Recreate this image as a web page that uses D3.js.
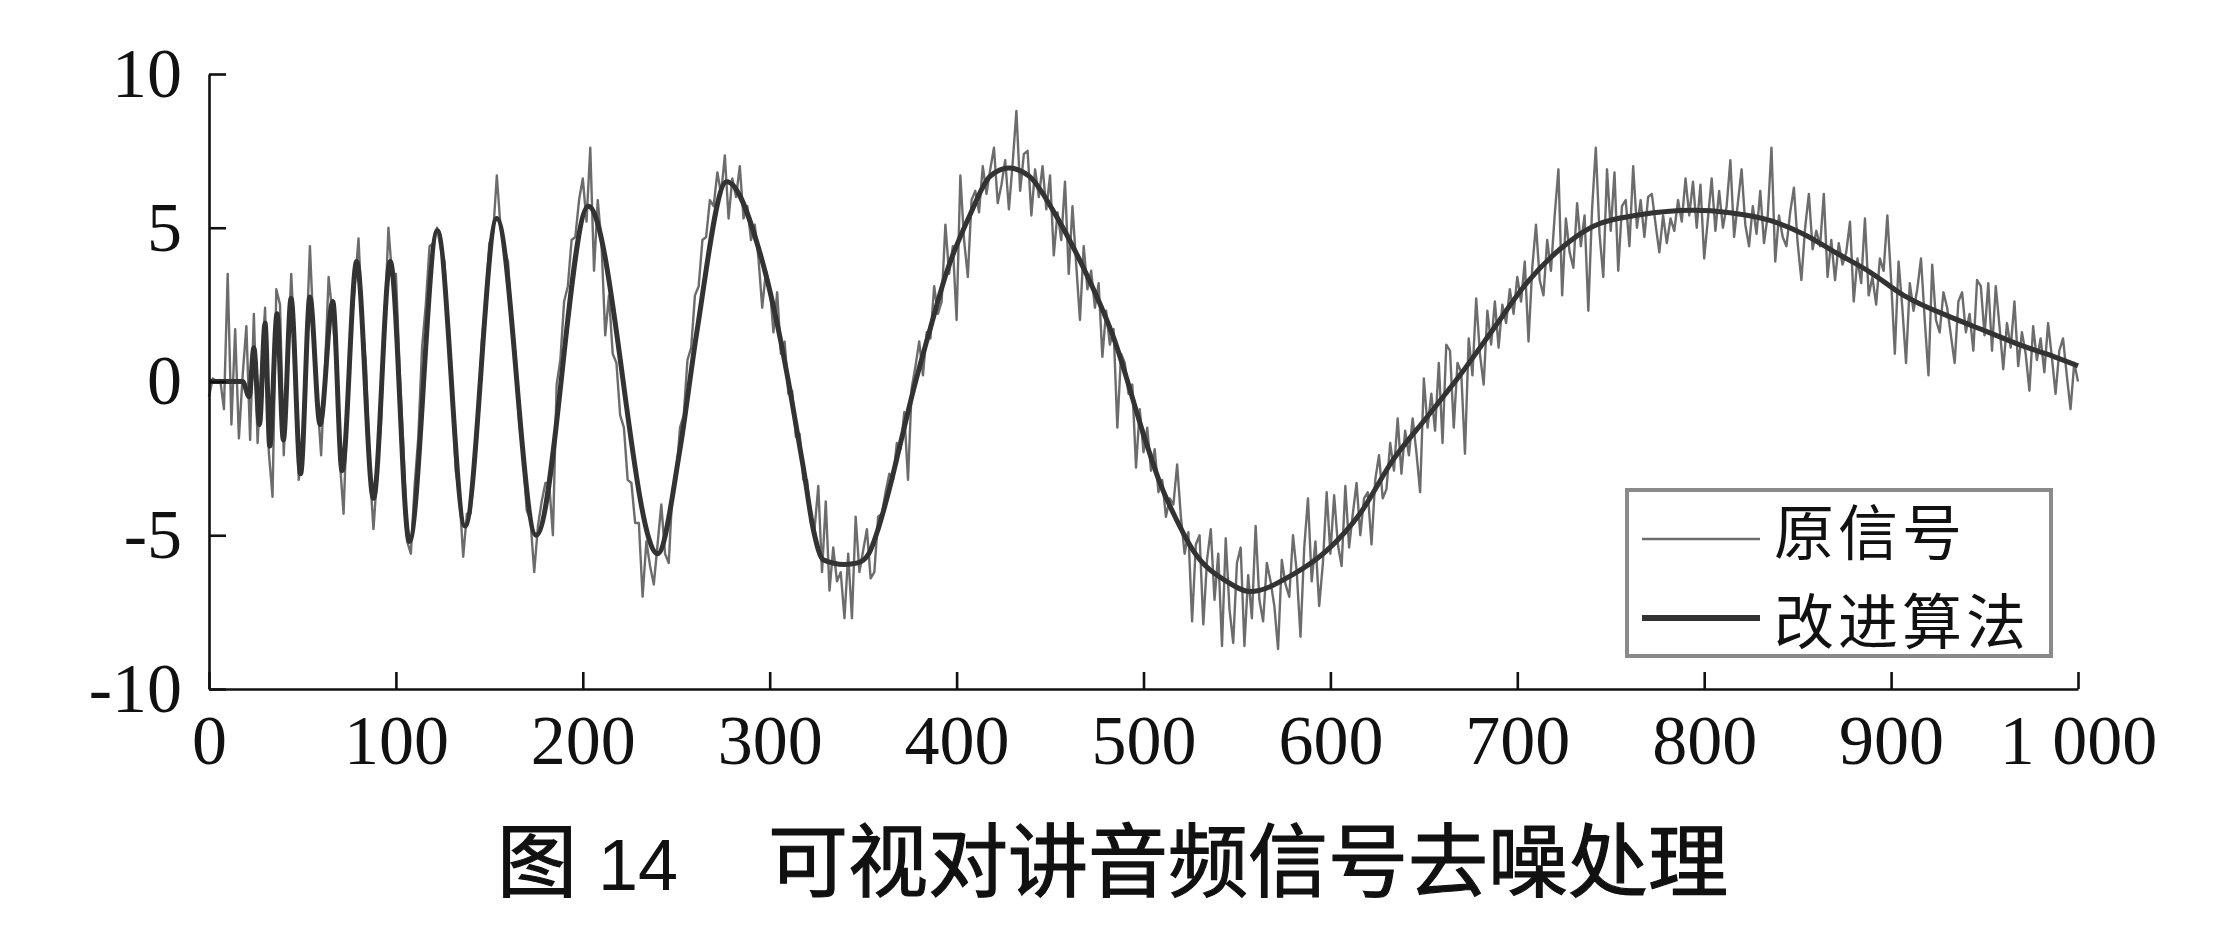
<!DOCTYPE html>
<html>
<head>
<meta charset="utf-8">
<script src="https://cdn.jsdelivr.net/npm/d3@7"></script>
<style>
  html, body { margin: 0; padding: 0; background: #fff; }
  svg { display: block; }
</style>
</head>
<body>
<svg id="chart" width="2240" height="936"></svg>
<script>
// ---------------- data ----------------
const xTickValues = [0, 100, 200, 300, 400, 500, 600, 700, 800, 900, 1000];
const xTickLabels = ["0", "100", "200", "300", "400", "500", "600", "700", "800", "900", "1 000"];
const yTickValues = [-10, -5, 0, 5, 10];
const yTickLabels = ["-10", "-5", "0", "5", "10"];

const seriesNames = ["原信号", "改进算法"];
const captionFig = "图";
const captionNumDigits = "14";
const captionText = "可视对讲音频信号去噪处理";

// original (noisy) signal, sampled every 2 units from 0 to 1000
const originalStep = 2;
const originalY = [
-0.5,0.1,0.0,0.05,-0.9,3.5,-1.4,1.7,-1.85,0.2,
1.8,-1.9,2.2,-2.0,0.4,2.4,-2.3,-3.75,3.0,2.5,
-2.4,0.6,3.5,0.9,-3.2,-2.1,1.1,4.4,1.5,-0.6,
-2.4,0.3,3.4,2.2,0.7,-2.6,-4.3,-0.8,1.6,3.1,
4.65,2.0,0.5,-2.9,-4.8,-3.0,-1.4,1.9,5.0,3.4,
3.5,0.4,-2.1,-5.2,-5.6,-3.4,-1.8,1.1,2.5,4.4,
4.5,5.0,4.3,3.9,1.5,-0.3,-2.9,-3.7,-5.7,-4.3,
-4.3,-2.5,-1.3,1.3,2.6,4.5,4.8,6.7,5.0,4.3,
3.9,1.8,0.9,-1.4,-2.4,-4.2,-4.5,-6.2,-4.7,-3.9,
-3.3,-3.3,-5.0,-0.1,0.7,2.6,3.1,4.6,4.7,5.9,
6.6,5.2,7.6,3.6,5.9,4.5,1.5,2.8,0.9,0.6,
-1.1,-1.5,-3.2,-3.3,-4.6,-4.6,-7.0,-5.2,-6.0,-6.6,
-5.3,-4.0,-5.6,-5.9,-3.5,-3.1,-1.5,-1.1,0.7,1.1,
2.8,3.1,4.6,4.7,5.9,5.7,6.8,6.1,7.35,5.3,
6.6,6.0,7.0,5.3,5.7,4.6,5.1,4.0,2.4,3.6,
3.1,1.6,2.9,0.9,1.3,-0.4,-0.3,-1.8,-1.7,-3.2,
-3.2,-4.6,-4.8,-3.4,-6.2,-3.9,-6.8,-5.4,-6.5,-6.2,
-7.7,-5.6,-7.7,-4.4,-6.2,-5.5,-4.8,-6.4,-6.2,-4.4,
-4.3,-3.6,-3.0,-3.2,-2.0,-2.2,-1.0,-3.2,-0.2,0.5,
1.3,0.2,1.6,1.4,3.1,2.2,2.6,5.1,3.5,4.4,
2.0,6.7,4.6,3.4,5.9,6.2,5.5,7.0,6.1,6.9,
7.6,5.8,6.4,7.2,5.6,7.1,8.8,6.2,7.4,7.5,
5.4,6.9,6.0,7.0,5.6,6.7,4.1,5.5,4.6,6.5,
3.5,5.7,3.8,2.0,4.4,3.0,3.6,2.4,3.2,0.8,
2.3,1.2,1.7,-1.5,0.9,0.6,-0.4,-0.1,-2.8,-0.9,
-2.3,-1.5,-2.9,-2.2,-3.6,-3.2,-4.4,-3.8,-4.0,-2.7,
-4.4,-5.6,-4.9,-7.8,-5.3,-5.0,-7.9,-5.8,-4.8,-7.1,
-5.6,-8.6,-5.1,-7.4,-8.5,-5.9,-5.4,-8.6,-6.3,-7.7,
-4.7,-7.1,-7.8,-5.9,-6.5,-7.3,-8.7,-5.8,-6.6,-7.0,
-5.0,-6.2,-8.3,-5.4,-3.8,-6.5,-5.2,-7.3,-5.9,-3.6,
-5.6,-3.7,-5.3,-6.0,-3.4,-5.4,-4.3,-3.3,-5.0,-3.8,
-3.6,-5.3,-3.2,-2.4,-3.8,-3.5,-2.0,-2.9,-1.2,-3.0,
-1.6,-2.4,-1.2,-2.3,-3.6,0.1,-1.5,-0.4,-1.6,0.6,
-2.0,1.2,1.0,-1.5,0.6,0.3,-2.35,1.4,0.2,2.7,
0.9,-0.1,2.3,1.2,2.6,1.1,2.5,1.9,3.0,2.2,
3.4,2.6,3.9,1.3,3.7,5.1,3.3,2.8,4.6,3.6,
5.4,6.9,2.8,5.3,4.2,3.7,5.8,4.4,5.4,2.3,
5.6,7.6,4.8,3.4,6.9,4.9,6.8,3.6,5.7,5.9,
4.4,7.0,5.0,5.9,4.7,6.0,6.1,5.1,4.2,5.4,
4.5,5.3,4.9,5.9,5.2,6.6,5.4,6.5,5.0,6.4,
4.0,5.3,6.6,4.9,6.2,5.0,5.7,7.2,4.7,5.8,
6.9,5.1,4.4,5.7,4.8,6.2,4.5,5.4,7.6,3.9,
5.4,4.7,4.4,5.5,6.3,4.5,3.3,5.0,6.1,4.3,
4.9,4.4,6.1,3.4,4.6,3.3,4.5,3.8,4.2,5.2,
2.6,4.0,3.2,5.3,2.8,3.4,2.5,4.0,3.6,5.4,
3.3,0.9,3.9,2.4,0.6,3.2,2.3,3.0,4.0,2.0,
0.2,3.8,2.0,1.6,2.9,2.4,1.5,0.6,2.6,2.9,
1.6,2.2,1.0,3.3,3.1,1.5,3.2,1.0,3.1,1.8,
0.4,1.9,1.1,2.6,0.5,1.6,0.9,-0.3,1.8,0.7,
1.4,0.3,1.9,0.8,-0.4,1.0,1.4,0.2,-0.9,0.6,
0.0
];

// denoised (improved algorithm) curve, key points
const denoisedX = [0,10,18,21.5,24,27,30,32.5,36.4,39.8,
43.9,49,54,59.4,66.2,71.2,79,88,97,107.2,
122.2,137,154,175,203,240,252,261,277,294.8,
305.5,310.9,318,323.3,328.7,340,347,353,358,364,
370,376.8,385.8,394.7,407,417.9,428,439,451.7,466,
483.9,501.7,508.8,517.7,526.6,544.5,557,580.1,598,615.8,
633.6,651.5,669.3,687.1,705,722.8,740.7,765.6,794,813.8,
835.1,853,870.8,888.7,906.5,933.2,951,968.9,986.7,1000];
const denoisedY = [0,0,0,-0.5,1.1,-1.4,1.9,-2.1,2.2,-1.9,
2.7,-3.0,2.75,-1.4,2.6,-2.9,3.9,-3.8,3.9,-5.2,
4.9,-4.7,5.3,-5.0,5.7,-5.6,-2.2,1.6,6.5,4.18,
1.44,-0.3,-2.8,-4.8,-5.8,-5.95,-5.9,-5.6,-4.8,-3.5,
-2.0,-0.3,1.7,3.56,5.4,6.67,6.94,6.67,5.55,3.93,
1.44,-2.04,-3.3,-4.5,-5.5,-6.5,-6.83,-6.27,-5.5,-4.3,
-2.54,-1.17,0.2,1.7,3.2,4.3,5.05,5.42,5.57,5.49,
5.24,4.8,4.18,3.56,2.81,2.06,1.63,1.19,0.82,0.51];

// ---------------- drawing ----------------
const svg = d3.select("#chart");
svg.append("rect").attr("width", 2240).attr("height", 936).attr("fill", "#fff");

const x = d3.scaleLinear().domain([0, 1000]).range([209, 2078]);
const y = d3.scaleLinear().domain([-10, 10]).range([689, 74]);

const originalData = originalY.map((v, i) => [i * originalStep, v]);
const denoisedData = denoisedX.map((v, i) => [v, denoisedY[i]]);

const lineOrig = d3.line().x(d => x(d[0])).y(d => y(d[1]));
const lineDen = d3.line().x(d => x(d[0])).y(d => y(d[1])).curve(d3.curveMonotoneX);

const colOrig = "#6c6c6c";
const colDen = "#333333";

svg.append("path").datum(originalData)
  .attr("d", lineOrig).attr("fill", "none")
  .attr("stroke", colOrig).attr("stroke-width", 2.4)
  .attr("stroke-linejoin", "round");

svg.append("path").datum(denoisedData)
  .attr("d", lineDen).attr("fill", "none")
  .attr("stroke", colDen).attr("stroke-width", 5)
  .attr("stroke-linejoin", "round");

// axes
const tickFont = "'Liberation Serif', 'Times New Roman', serif";
const xAxis = d3.axisBottom(x).tickValues(xTickValues)
  .tickFormat((d, i) => xTickLabels[i]).tickSize(-17).tickSizeOuter(0).tickPadding(25);
const yAxis = d3.axisLeft(y).tickValues(yTickValues)
  .tickFormat((d, i) => yTickLabels[i]).tickSize(-17).tickSizeOuter(0).tickPadding(27);

const gx = svg.append("g").attr("transform", `translate(0,${y(-10)})`).call(xAxis);
const gy = svg.append("g").attr("transform", `translate(${x(0)},0)`).call(yAxis);
[gx, gy].forEach(g => {
  g.select(".domain").attr("stroke", "#111").attr("stroke-width", 2.6);
  g.selectAll(".tick line").attr("stroke", "#111").attr("stroke-width", 2.6);
  g.selectAll(".tick text").attr("fill", "#111")
    .style("font-family", tickFont).style("font-size", "70px");
});

// legend
const lg = svg.append("g");
lg.append("rect").attr("x", 1627).attr("y", 490).attr("width", 424).attr("height", 166)
  .attr("fill", "#fff").attr("stroke", "#8a8a8a").attr("stroke-width", 4);
const legendRows = [
  { name: seriesNames[0], color: colOrig, w: 2.6, ly: 539, ty: 528 },
  { name: seriesNames[1], color: colDen, w: 6, ly: 618, ty: 617 }
];
legendRows.forEach(r => {
  lg.append("line").attr("x1", 1642).attr("x2", 1760).attr("y1", r.ly).attr("y2", r.ly)
    .attr("stroke", r.color).attr("stroke-width", r.w);
  lg.append("text").attr("x", 1774).attr("y", r.ty).attr("dominant-baseline", "central")
    .style("font-family", "'Noto Sans CJK SC', sans-serif").style("font-size", "60px")
    .style("letter-spacing", "4px")
    .attr("fill", "#111").text(r.name);
});

// caption
const cap = svg.append("g");
cap.append("text").attr("x", 497).attr("y", 890)
  .style("font-family", "'Noto Sans CJK SC', sans-serif").style("font-size", "80px")
  .attr("fill", "#111").attr("stroke", "#111").attr("stroke-width", 1.2).text(captionFig);
cap.append("text").attr("x", 598).attr("y", 890)
  .style("font-family", "'Liberation Sans', Arial, sans-serif").style("font-size", "72px")
  .attr("fill", "#111").text(captionNumDigits);
cap.append("text").attr("x", 768).attr("y", 890)
  .style("font-family", "'Noto Sans CJK SC', sans-serif").style("font-size", "80px")
  .attr("fill", "#111").attr("stroke", "#111").attr("stroke-width", 1.2).text(captionText);
</script>
</body>
</html>
